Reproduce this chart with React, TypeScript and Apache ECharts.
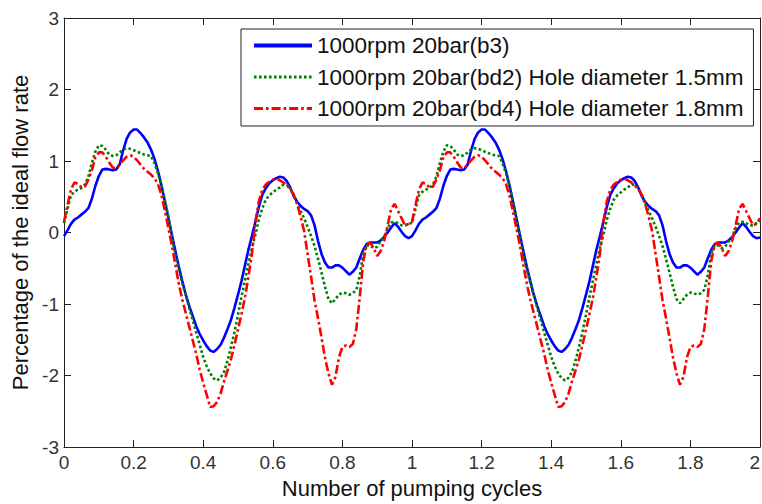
import React, { useEffect, useRef } from "react";
import * as echarts from "echarts";

const FONT = "'Liberation Sans', Arial, Helvetica, sans-serif";

// x grid: number of pumping cycles, sampled every 0.01 from 0 to 2
const xValues: number[] = Array.from({ length: 201 }, (_, i) => Number((i * 0.01).toFixed(2)));

const seriesNames = [
  "1000rpm 20bar(b3)",
  "1000rpm 20bar(bd2) Hole diameter 1.5mm",
  "1000rpm 20bar(bd4) Hole diameter 1.8mm",
];

const xTicks = [0, 0.2, 0.4, 0.6, 0.8, 1, 1.2, 1.4, 1.6, 1.8, 2];
const yTicks = [-3, -2, -1, 0, 1, 2, 3];

const blueB3 = [
  -0.05, 0.03, 0.12, 0.18, 0.21, 0.25, 0.29, 0.34, 0.47, 0.65,
  0.79, 0.88, 0.89, 0.88, 0.87, 0.88, 0.95, 1.15, 1.31, 1.40,
  1.44, 1.44, 1.39, 1.33, 1.26, 1.16, 1.03, 0.86, 0.66, 0.43,
  0.20, -0.03, -0.26, -0.48, -0.68, -0.87, -1.03, -1.17, -1.31, -1.42,
  -1.51, -1.59, -1.65, -1.67, -1.63, -1.57, -1.47, -1.35, -1.22, -1.05,
  -0.87, -0.68, -0.46, -0.24, -0.05, 0.15, 0.36, 0.53, 0.62, 0.69,
  0.73, 0.76, 0.78, 0.77, 0.72, 0.63, 0.51, 0.43, 0.37, 0.33,
  0.30, 0.24, 0.10, -0.12, -0.30, -0.42, -0.49, -0.49, -0.46, -0.46,
  -0.49, -0.54, -0.59, -0.55, -0.49, -0.36, -0.24, -0.16, -0.14, -0.14,
  -0.14, -0.11, -0.06, 0.00, 0.07, 0.13, 0.08, 0.01, -0.05, -0.08,
  -0.05, 0.03, 0.12, 0.18, 0.21, 0.25, 0.29, 0.34, 0.47, 0.65,
  0.79, 0.88, 0.89, 0.88, 0.87, 0.88, 0.95, 1.15, 1.31, 1.40,
  1.44, 1.44, 1.39, 1.33, 1.26, 1.16, 1.03, 0.86, 0.66, 0.43,
  0.20, -0.03, -0.26, -0.48, -0.68, -0.87, -1.03, -1.17, -1.31, -1.42,
  -1.51, -1.59, -1.65, -1.67, -1.63, -1.57, -1.47, -1.35, -1.22, -1.05,
  -0.87, -0.68, -0.46, -0.24, -0.05, 0.15, 0.36, 0.53, 0.62, 0.69,
  0.73, 0.76, 0.78, 0.77, 0.72, 0.63, 0.51, 0.43, 0.37, 0.33,
  0.30, 0.24, 0.10, -0.12, -0.30, -0.42, -0.49, -0.49, -0.46, -0.46,
  -0.49, -0.54, -0.59, -0.55, -0.49, -0.36, -0.24, -0.16, -0.14, -0.14,
  -0.14, -0.11, -0.06, 0.00, 0.07, 0.13, 0.08, 0.01, -0.05, -0.08,
  -0.07,
];

const greenBd2 = [
  0.13, 0.33, 0.52, 0.57, 0.60, 0.62, 0.67, 0.78, 0.97, 1.13,
  1.22, 1.21, 1.16, 1.09, 1.07, 1.08, 1.12, 1.16, 1.18, 1.17,
  1.15, 1.13, 1.11, 1.09, 1.08, 1.07, 0.97, 0.83, 0.66, 0.45,
  0.22, -0.06, -0.32, -0.52, -0.71, -0.88, -1.06, -1.23, -1.40, -1.57,
  -1.74, -1.87, -1.97, -2.04, -2.07, -2.03, -1.95, -1.79, -1.60, -1.39,
  -1.15, -0.90, -0.67, -0.44, -0.22, -0.03, 0.18, 0.34, 0.46, 0.52,
  0.56, 0.60, 0.63, 0.67, 0.67, 0.62, 0.53, 0.40, 0.30, 0.20,
  0.08, -0.05, -0.19, -0.37, -0.56, -0.76, -0.93, -0.99, -0.93, -0.87,
  -0.84, -0.85, -0.87, -0.85, -0.80, -0.60, -0.29, -0.18, -0.18, -0.22,
  -0.20, -0.12, -0.06, 0.06, 0.14, 0.15, 0.13, 0.10, 0.10, 0.13,
  0.13, 0.33, 0.52, 0.57, 0.60, 0.62, 0.67, 0.78, 0.97, 1.13,
  1.22, 1.21, 1.16, 1.09, 1.07, 1.08, 1.12, 1.16, 1.18, 1.17,
  1.15, 1.13, 1.11, 1.09, 1.08, 1.07, 0.97, 0.83, 0.66, 0.45,
  0.22, -0.06, -0.32, -0.52, -0.71, -0.88, -1.06, -1.23, -1.40, -1.57,
  -1.74, -1.87, -1.97, -2.04, -2.07, -2.03, -1.95, -1.79, -1.60, -1.39,
  -1.15, -0.90, -0.67, -0.44, -0.22, -0.03, 0.18, 0.34, 0.46, 0.52,
  0.56, 0.60, 0.63, 0.67, 0.67, 0.62, 0.53, 0.40, 0.30, 0.20,
  0.08, -0.05, -0.19, -0.37, -0.56, -0.76, -0.93, -0.99, -0.93, -0.87,
  -0.84, -0.85, -0.87, -0.85, -0.80, -0.60, -0.29, -0.18, -0.18, -0.22,
  -0.20, -0.12, -0.06, 0.06, 0.14, 0.15, 0.13, 0.10, 0.10, 0.13,
  0.15,
];

const redBd4 = [
  0.15, 0.38, 0.60, 0.70, 0.68, 0.63, 0.64, 0.74, 0.87, 1.05,
  1.12, 1.12, 1.06, 0.98, 0.91, 0.90, 0.95, 1.01, 1.06, 1.08,
  1.06, 1.01, 0.95, 0.89, 0.85, 0.81, 0.76, 0.68, 0.52, 0.30,
  0.06, -0.18, -0.45, -0.72, -0.94, -1.13, -1.32, -1.51, -1.70, -1.92,
  -2.10, -2.27, -2.44, -2.43, -2.37, -2.25, -2.08, -1.93, -1.77, -1.57,
  -1.36, -1.14, -0.91, -0.62, -0.30, 0.15, 0.44, 0.60, 0.67, 0.71,
  0.74, 0.75, 0.73, 0.70, 0.66, 0.61, 0.53, 0.40, 0.22, 0.02,
  -0.30, -0.62, -0.95, -1.20, -1.47, -1.75, -1.97, -2.13, -2.02, -1.75,
  -1.60, -1.58, -1.60, -1.56, -1.35, -0.90, -0.40, -0.17, -0.14, -0.22,
  -0.33, -0.26, -0.12, 0.10, 0.33, 0.40, 0.30, 0.20, 0.10, 0.12,
  0.15, 0.38, 0.60, 0.70, 0.68, 0.63, 0.64, 0.74, 0.87, 1.05,
  1.12, 1.12, 1.06, 0.98, 0.91, 0.90, 0.95, 1.01, 1.06, 1.08,
  1.06, 1.01, 0.95, 0.89, 0.85, 0.81, 0.76, 0.68, 0.52, 0.30,
  0.06, -0.18, -0.45, -0.72, -0.94, -1.13, -1.32, -1.51, -1.70, -1.92,
  -2.10, -2.27, -2.44, -2.43, -2.37, -2.25, -2.08, -1.93, -1.77, -1.57,
  -1.36, -1.14, -0.91, -0.62, -0.30, 0.15, 0.44, 0.60, 0.67, 0.71,
  0.74, 0.75, 0.73, 0.70, 0.66, 0.61, 0.53, 0.40, 0.22, 0.02,
  -0.30, -0.62, -0.95, -1.20, -1.47, -1.75, -1.97, -2.13, -2.02, -1.75,
  -1.60, -1.58, -1.60, -1.56, -1.35, -0.90, -0.40, -0.17, -0.14, -0.22,
  -0.33, -0.26, -0.12, 0.10, 0.33, 0.40, 0.30, 0.20, 0.10, 0.12,
  0.20,
];

const AXIS_COLOR = "#222";

export default function App() {
  const ref = useRef<HTMLDivElement>(null);

  useEffect(() => {
    const chart = echarts.init(ref.current!, null, { renderer: "svg" });
    const pair = (ys: number[]) => xValues.map((x, i) => [x, ys[i]]);
    const xMin = xTicks[0];
    const xMax = xTicks[xTicks.length - 1];
    const yMin = yTicks[0];
    const yMax = yTicks[yTicks.length - 1];
    const tick = { show: true, inside: true, length: 7, lineStyle: { color: AXIS_COLOR, width: 1 } };
    const line = { show: true, onZero: false, lineStyle: { color: AXIS_COLOR, width: 1 } };

    chart.setOption({
      animation: false,
      backgroundColor: "#fff",
      grid: { left: 64, right: 2, top: 18, bottom: 57, containLabel: false, outerBoundsMode: "none" },
      legend: {
        orient: "vertical",
        left: 241,
        top: 29,
        backgroundColor: "#fff",
        borderColor: AXIS_COLOR,
        borderWidth: 1,
        borderRadius: 0,
        padding: [5, 10, 6, 11],
        itemGap: 8.5,
        itemWidth: 58,
        itemHeight: 14,
        itemStyle: { opacity: 0 },
        textStyle: { fontSize: 22.5, fontFamily: FONT, color: "#111" },
        data: [
          { name: seriesNames[0], lineStyle: { width: 4 } },
          { name: seriesNames[1], lineStyle: { width: 3 } },
          { name: seriesNames[2], lineStyle: { width: 3 } },
        ],
      },
      xAxis: [
        {
          type: "value",
          position: "bottom",
          min: xMin,
          max: xMax,
          interval: 0.2,
          axisLine: line,
          axisTick: tick,
          splitLine: { show: false },
          axisLabel: { fontSize: 19, fontFamily: FONT, color: "#333", margin: 6, alignMaxLabel: "right" },
          name: "Number of pumping cycles",
          nameLocation: "middle",
          nameGap: 30,
          nameTextStyle: { fontSize: 22, fontFamily: FONT, color: "#111" },
        },
        {
          type: "value",
          position: "top",
          min: xMin,
          max: xMax,
          interval: 0.2,
          axisLine: line,
          axisTick: tick,
          splitLine: { show: false },
          axisLabel: { show: false },
        },
      ],
      yAxis: [
        {
          type: "value",
          position: "left",
          min: yMin,
          max: yMax,
          interval: 1,
          axisLine: line,
          axisTick: tick,
          splitLine: { show: false },
          axisLabel: { fontSize: 19, fontFamily: FONT, color: "#333", margin: 5 },
          name: "Percentage of the ideal flow rate",
          nameLocation: "middle",
          nameGap: 29,
          nameTextStyle: { fontSize: 22, fontFamily: FONT, color: "#111" },
        },
        {
          type: "value",
          position: "right",
          min: yMin,
          max: yMax,
          interval: 1,
          axisLine: line,
          axisTick: tick,
          splitLine: { show: false },
          axisLabel: { show: false },
        },
      ],
      series: [
        {
          name: seriesNames[0],
          type: "line",
          symbol: "none",
          showSymbol: false,
          data: pair(blueB3),
          itemStyle: { color: "#0000ff" },
          lineStyle: { color: "#0000ff", width: 2.6, type: "solid" },
        },
        {
          name: seriesNames[1],
          type: "line",
          symbol: "none",
          showSymbol: false,
          data: pair(greenBd2),
          itemStyle: { color: "#008000" },
          lineStyle: { color: "#008000", width: 2.6, type: [2.6, 2.4] },
        },
        {
          name: seriesNames[2],
          type: "line",
          symbol: "none",
          showSymbol: false,
          data: pair(redBd4),
          itemStyle: { color: "#ff0000" },
          lineStyle: { color: "#ff0000", width: 2.6, type: [9, 3, 2.6, 3] },
        },
      ],
    });
    return () => chart.dispose();
  }, []);

  return (
    <div
      ref={ref}
      style={{ position: "absolute", left: 0, top: 0, width: 762, height: 504 }}
    />
  );
}
